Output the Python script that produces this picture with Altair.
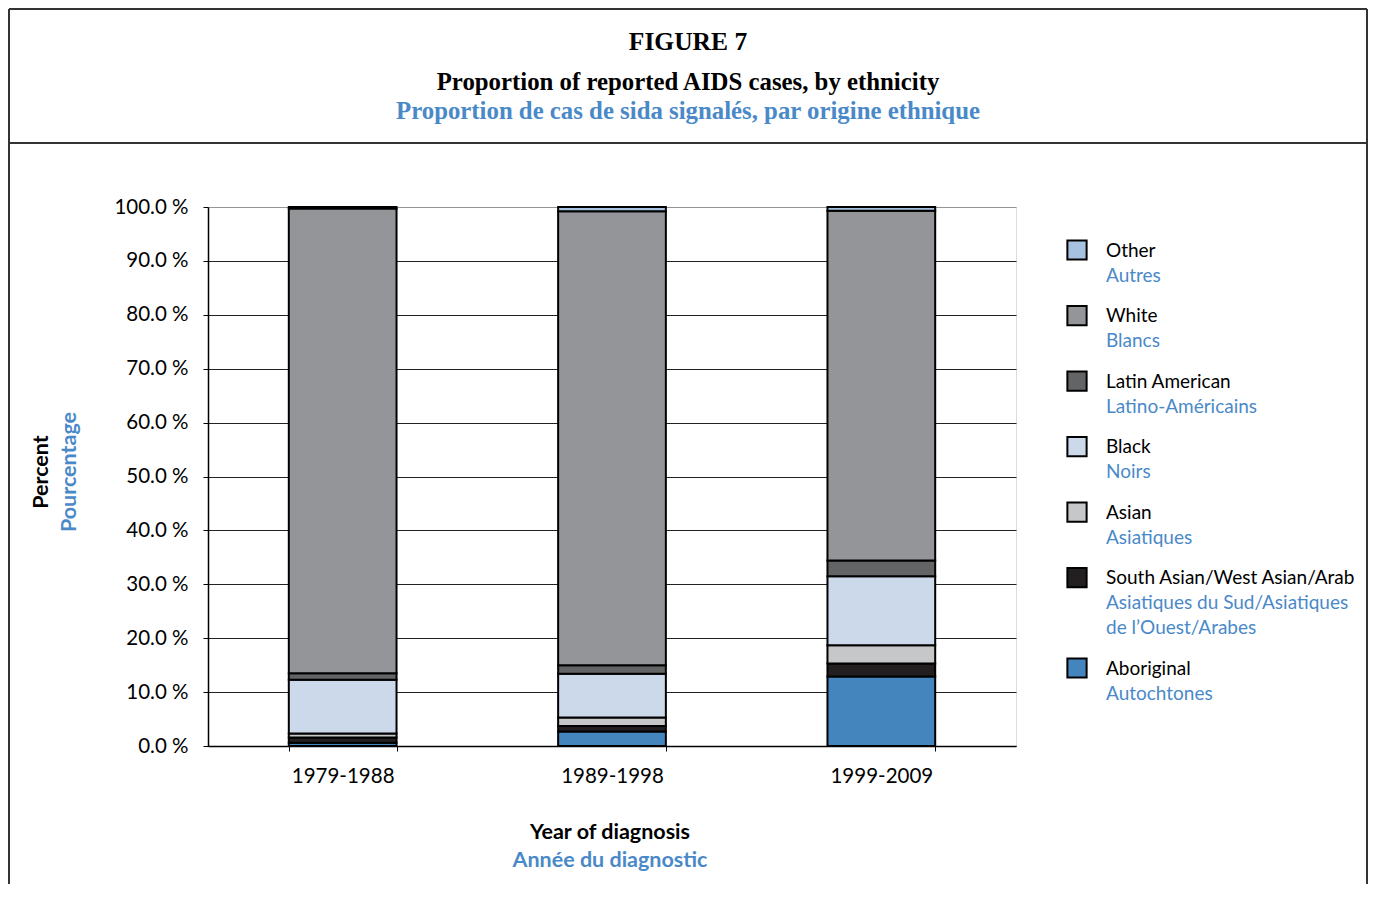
import altair as alt
import pandas as pd

periods = ["1979-1988", "1989-1998", "1999-2009"]
groups = ["Aboriginal", "South Asian/West Asian/Arab", "Asian", "Black",
          "Latin American", "White", "Other"]
aboriginal = [0.6, 2.7, 12.9]
south_asian = [1.0, 1.0, 2.4]
asian = [0.7, 1.6, 3.4]
black = [10.0, 8.1, 12.8]
latin = [1.2, 1.6, 2.9]
white = [86.2, 84.2, 64.9]
other = [0.3, 0.8, 0.7]
colors = ["#4585be", "#231f20", "#c6c7c8", "#ccd9ea", "#636466", "#939598", "#a7c2e0"]

legend_order = ["Other", "White", "Latin American", "Black", "Asian",
                "South Asian/West Asian/Arab", "Aboriginal"]
legend_fr = ["Autres", "Blancs", "Latino-Américains", "Noirs", "Asiatiques",
             "Asiatiques du Sud/Asiatiques\nde l\u2019Ouest/Arabes", "Autochtones"]

series = [aboriginal, south_asian, asian, black, latin, white, other]
rows = []
for gi, (g, vals) in enumerate(zip(groups, series)):
    for p, v in zip(periods, vals):
        rows.append({"period": p, "group": g, "value": v, "idx": gi})
df = pd.DataFrame(rows)

# legend slots: one slot per entry plus extra room for wrapped French lines
extra_lines = [fr.count("\n") for fr in legend_fr]
slots = []
acc = 0.0
for i, n in enumerate(extra_lines):
    slots.append(i + acc)
    acc += n * 0.38
leg = pd.DataFrame({"group": legend_order, "fr": legend_fr, "slot": slots})
one = pd.DataFrame({"a": [0]})

SANS = "Lato"
SERIF = "Liberation Serif"
BLUE = "#4a89c8"

color_scale = alt.Scale(domain=groups, range=colors)

bars = alt.Chart(df).mark_bar(stroke="black", strokeWidth=2).encode(
    x=alt.X("period:N", sort=periods, title=None,
            scale=alt.Scale(paddingInner=0.6, paddingOuter=0.3),
            axis=alt.Axis(labelAngle=0, labelFontSize=20.5, labelFont=SANS,
                          labelColor="black", tickBand="extent", tickSize=5,
                          tickColor="black", domainColor="black", domainWidth=1.5,
                          labelPadding=15)),
    y=alt.Y("value:Q", stack="zero", title=None,
            scale=alt.Scale(domain=[0, 100], nice=False),
            axis=alt.Axis(values=list(range(0, 101, 10)),
                          labelExpr="format(datum.value, '.1f') + ' %'",
                          labelFontSize=20.5, labelFont=SANS, labelColor="black",
                          tickSize=5, tickColor="black", labelPadding=15,
                          domainColor="black", domainWidth=1.5,
                          grid=True,
                          gridColor={"condition": {"test": "datum.value === 100", "value": "#939598"},
                                     "value": "#222222"},
                          gridWidth=1)),
    color=alt.Color("group:N", scale=color_scale, legend=None),
    order=alt.Order("idx:Q", sort="ascending"),
)

leg_y = alt.Y("slot:Q", axis=None,
              scale=alt.Scale(domain=[0, 6.38], range=[43, 461], nice=False, zero=False))

leg_sq = alt.Chart(leg).mark_square(size=370, stroke="black", strokeWidth=2, opacity=1).encode(
    x=alt.value(869), y=leg_y,
    fill=alt.Fill("group:N", scale=color_scale, legend=None),
)
leg_en = alt.Chart(leg).mark_text(align="left", baseline="alphabetic", dy=6.5,
                                  font=SANS, fontSize=19, color="black").encode(
    x=alt.value(898), y=leg_y, text="group:N")
leg_fr = alt.Chart(leg).mark_text(align="left", baseline="alphabetic", dy=31.5,
                                  font=SANS, fontSize=19, color=BLUE,
                                  lineBreak="\n", lineHeight=25).encode(
    x=alt.value(898), y=leg_y, text="fr:N")

def txt(s, x, y, size, color, font, weight="bold", angle=0, baseline="alphabetic"):
    return alt.Chart(one).mark_text(text=s, font=font, fontSize=size, fontWeight=weight,
                                    color=color, align="center", baseline=baseline,
                                    angle=angle).encode(x=alt.value(x), y=alt.value(y))

header = [
    txt("FIGURE 7", 480, -157, 25.5, "black", SERIF),
    txt("Proportion of reported AIDS cases, by ethnicity", 480, -117, 24.8, "black", SERIF),
    txt("Proportion de cas de sida signalés, par origine ethnique", 480, -88, 24.8, BLUE, SERIF),
    txt("Year of diagnosis", 402, 632, 21.5, "black", SANS),
    txt("Année du diagnostic", 402, 660, 21.5, BLUE, SANS),
    txt("Percent", -166, 265, 21.5, "black", SANS, angle=270, baseline="middle"),
    txt("Pourcentage", -138, 265, 21.5, BLUE, SANS, angle=270, baseline="middle"),
]

def rule(x, x2, y, y2):
    return alt.Chart(one).mark_rule(color="#333333", strokeWidth=2).encode(
        x=alt.value(x), x2=alt.value(x2), y=alt.value(y), y2=alt.value(y2))

frame = [
    rule(-199, 1159, -198, -198),
    rule(-199, 1159, -64, -64),
    rule(-199, -199, -198, 677),
    rule(1159, 1159, -198, 677),
]

chart = alt.layer(bars, leg_sq, leg_en, leg_fr, *header, *frame).resolve_scale(
    y="independent", x="independent"
).properties(
    width=808, height=539,
    autosize=alt.AutoSizeParams(type="none"),
    padding={"left": 200, "top": 199, "right": 352, "bottom": 138},
).configure_view(stroke="#939598", strokeWidth=2).configure(background="white")

chart.save("out.html", embed_options={"renderer": "svg", "actions": False})
